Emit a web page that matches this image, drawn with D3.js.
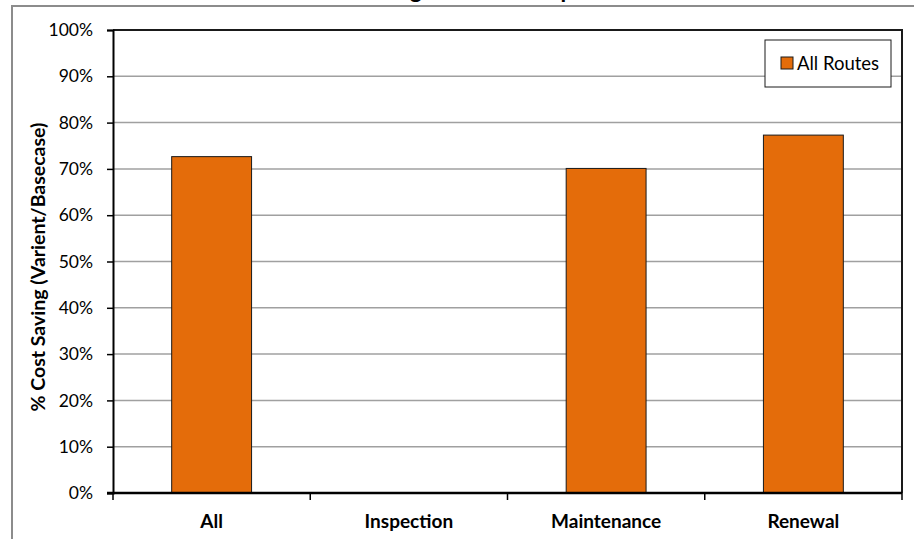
<!DOCTYPE html>
<html>
<head>
<meta charset="utf-8">
<script src="https://cdn.jsdelivr.net/npm/d3@7"></script>
<style>
  html, body { margin: 0; padding: 0; background: #fff; }
  svg { display: block; font-family: Lato, "Open Sans", sans-serif; }
</style>
</head>
<body>
<svg id="chart" width="914" height="539"></svg>
<script>
// Chart data
const categories = ["All", "Inspection", "Maintenance", "Renewal"];
const allRoutes = [0.7265, null, 0.701, 0.773];
const yTicks = [0, 0.1, 0.2, 0.3, 0.4, 0.5, 0.6, 0.7, 0.8, 0.9, 1.0];
const seriesName = "All Routes";
const chartTitle = "% Cost Saving \u2013 Route Comparison";
const yTitle = "% Cost Saving (Varient/Basecase)";

const svg = d3.select("#chart");
const W = 914, H = 539;
const plot = { left: 113, top: 30, right: 902, bottom: 493 };

// Outer chart frame
svg.append("rect")
  .attr("x", 12).attr("y", 6)
  .attr("width", W + 10).attr("height", H + 10)
  .attr("fill", "#fff").attr("stroke", "#8c8c8c").attr("stroke-width", 2);

// Title (sits mostly above the frame)
svg.append("text")
  .attr("x", 457).attr("y", -2)
  .attr("text-anchor", "middle")
  .attr("font-size", 23).attr("font-weight", "bold")
  .attr("fill", "#000")
  .text(chartTitle);

const x = d3.scaleBand().domain(categories).range([plot.left, plot.right]).padding(0);
const y = d3.scaleLinear().domain([0, 1]).range([plot.bottom, plot.top]);

// Gridlines
svg.append("g").selectAll("line")
  .data(yTicks.filter(t => t > 0 && t < 1))
  .join("line")
  .attr("x1", plot.left).attr("x2", plot.right)
  .attr("y1", d => y(d)).attr("y2", d => y(d))
  .attr("stroke", "#a0a0a0").attr("stroke-width", 1.5);

// Bars
const barW = x.bandwidth() * 0.405;
svg.append("g").selectAll("rect")
  .data(categories.map((c, i) => ({ c, v: allRoutes[i] })).filter(d => d.v != null))
  .join("rect")
  .attr("x", d => x(d.c) + (x.bandwidth() - barW) / 2)
  .attr("y", d => y(d.v))
  .attr("width", barW)
  .attr("height", d => y(0) - y(d.v))
  .attr("fill", "#E46C0A")
  .attr("stroke", "#1a1a1a").attr("stroke-width", 1);

// Plot border (top, right)
svg.append("path")
  .attr("d", `M${plot.left},${plot.top}H${plot.right}V${plot.bottom}`)
  .attr("fill", "none").attr("stroke", "#1a1a1a").attr("stroke-width", 2);

// Y axis
const yAxis = d3.axisLeft(y).tickValues(yTicks).tickSize(6).tickPadding(14)
  .tickFormat(d3.format(".0%"));
const gy = svg.append("g").attr("transform", `translate(${plot.left},0)`).call(yAxis);
gy.select(".domain").attr("stroke", "#000").attr("stroke-width", 2);
gy.selectAll(".tick line").attr("stroke", "#000").attr("stroke-width", 1.5);
gy.selectAll(".tick text").attr("font-size", 17.5).attr("fill", "#000")
  .attr("font-family", "Lato, 'Open Sans', sans-serif");

// X axis: ticks at category boundaries
const boundaries = categories.map(c => x(c)).concat([plot.right]);
const gx = svg.append("g");
gx.append("line")
  .attr("x1", plot.left - 6).attr("x2", plot.right)
  .attr("y1", plot.bottom).attr("y2", plot.bottom)
  .attr("stroke", "#000").attr("stroke-width", 2.5);
gx.selectAll("line.tk").data(boundaries).join("line").attr("class", "tk")
  .attr("x1", d => d).attr("x2", d => d)
  .attr("y1", plot.bottom).attr("y2", plot.bottom + 7)
  .attr("stroke", "#000").attr("stroke-width", 1.5);
gx.selectAll("text").data(categories).join("text")
  .attr("x", d => x(d) + x.bandwidth() / 2)
  .attr("y", 528)
  .attr("text-anchor", "middle")
  .attr("font-size", 19).attr("font-weight", "bold")
  .text(d => d);

// Y axis title
svg.append("text")
  .attr("transform", "translate(45,267) rotate(-90)")
  .attr("text-anchor", "middle")
  .attr("font-size", 19.5).attr("font-weight", "bold")
  .text(yTitle);

// Legend
const lg = svg.append("g");
lg.append("rect").attr("x", 765).attr("y", 40).attr("width", 126).attr("height", 47)
  .attr("fill", "#fff").attr("stroke", "#1a1a1a").attr("stroke-width", 1);
lg.append("rect").attr("x", 781).attr("y", 57).attr("width", 12).attr("height", 12)
  .attr("fill", "#E46C0A").attr("stroke", "#1a1a1a").attr("stroke-width", 1);
lg.append("text").attr("x", 797).attr("y", 70)
  .attr("font-size", 18.5).attr("fill", "#000").text(seriesName);
</script>
</body>
</html>
